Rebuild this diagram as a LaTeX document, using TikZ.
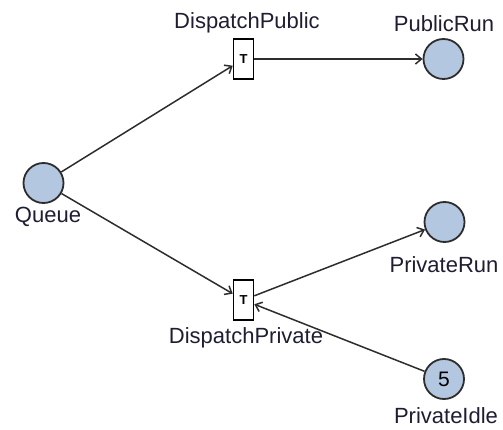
\documentclass[tikz,border=0pt]{standalone}
\usepackage{fontspec}
\setmainfont{Liberation Sans}
\usetikzlibrary{arrows.meta}
\definecolor{placefill}{RGB}{180,199,224}
\definecolor{linegray}{RGB}{45,45,45}
\definecolor{labeltext}{RGB}{30,30,50}
\begin{document}
\begin{tikzpicture}[x=1pt,y=-1pt,
  place/.style={circle,draw=linegray,line width=1.8pt,fill=placefill,minimum size=40pt,inner sep=0pt,font=\fontsize{21}{24}\selectfont},
  trans/.style={rectangle,draw=black,line width=1.6pt,fill=white,minimum width=20pt,minimum height=40pt,inner sep=0pt,font=\fontsize{13}{14}\selectfont\bfseries},
  lbl/.style={text=labeltext,inner sep=0pt,font=\fontsize{22}{26}\selectfont},
  arc/.style={draw=linegray,line width=1.5pt,-{Straight Barb[length=6pt,width=10pt,line width=1.5pt]}}]
\useasboundingbox (0,0) rectangle (503,430);
\node[place] (queue) at (43.5,183) {};
\node[place] (publicrun) at (443.5,59) {};
\node[place] (privaterun) at (444.5,222) {};
\node[place] (privateidle) at (444,379) {5};
\node[trans] (dpub) at (243.5,59) {T};
\node[trans] (dpriv) at (243.5,300) {T};
\node[lbl] (lqueue) at (48,217) {Queue};
\node[lbl] (lpublicrun) at (444,24) {PublicRun};
\node[lbl] (lprivaterun) at (444,265) {PrivateRun};
\node[lbl] (lprivateidle) at (446,416) {PrivateIdle};
\node[lbl] (ldpub) at (247,23) {DispatchPublic};
\node[lbl] (ldpriv) at (246,338) {DispatchPrivate};
\draw[arc] (queue) -- (dpub);
\draw[arc] (dpub) -- (publicrun);
\draw[arc] (queue) -- (dpriv);
\draw[arc] (dpriv) -- (privaterun);
\draw[arc] (privateidle) -- (dpriv);
\end{tikzpicture}
\end{document}
